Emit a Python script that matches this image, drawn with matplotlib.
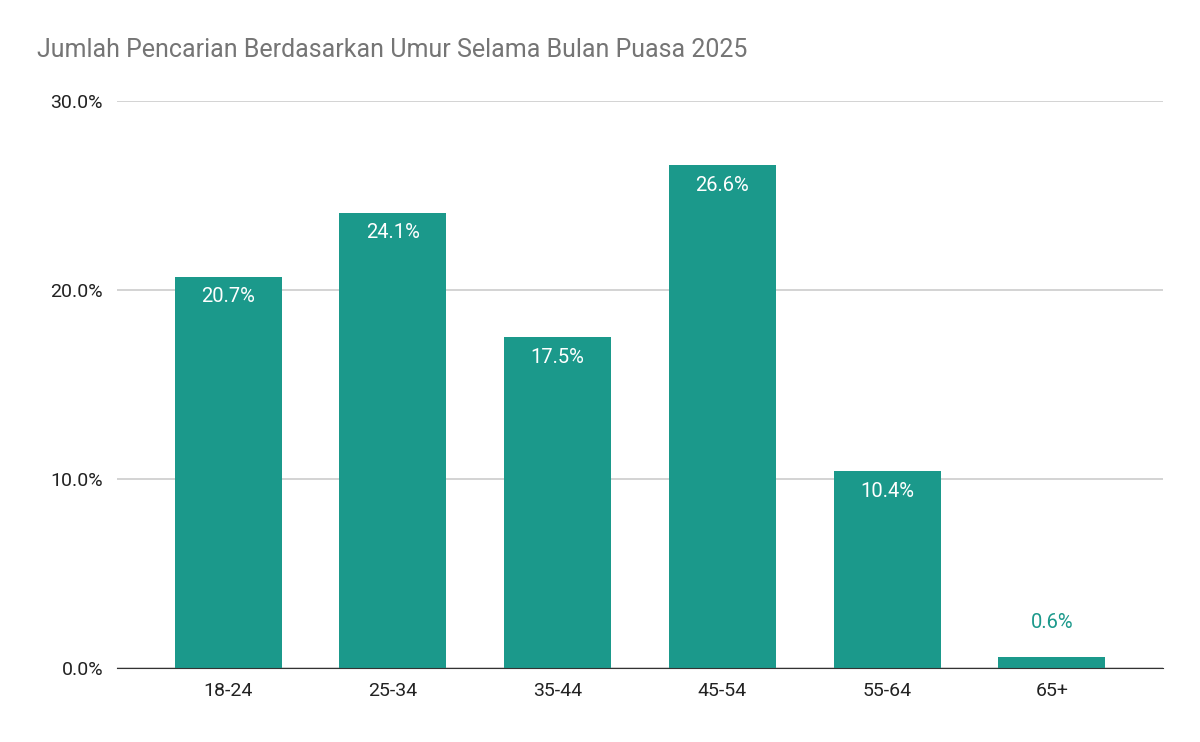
import matplotlib
matplotlib.use("Agg")
import matplotlib.pyplot as plt
from matplotlib.ticker import FuncFormatter

categories = ["18-24", "25-34", "35-44", "45-54", "55-64", "65+"]
values = [20.7, 24.1, 17.5, 26.6, 10.4, 0.6]
color = "#1b998b"

plt.rcParams['font.family'] = ['Roboto', 'DejaVu Sans']
fig = plt.figure(figsize=(12, 7.42), dpi=100)
ax = fig.add_axes([117/1200, 1-668/742, (1163-117)/1200, (668-101)/742])
x = list(range(len(categories)))
ax.bar(x, values, width=0.65, color=color, zorder=3)
for xi, v in zip(x, values):
    if v > 3:
        ax.text(xi, v - 0.55, f"{v:.1f}%", ha="center", va="top", color="white", fontsize=14.5, zorder=4)
    else:
        ax.text(xi, v + 1.3, f"{v:.1f}%", ha="center", va="bottom", color=color, fontsize=14.5, zorder=4)
ax.set_xlim(-0.674, 5.674)
ax.set_ylim(0, 30)
ax.set_yticks([0, 10, 20, 30])
ax.yaxis.set_major_formatter(FuncFormatter(lambda v, p: f"{v:.1f}%"))
ax.set_xticks(x)
ax.set_xticklabels(categories)
ax.tick_params(length=0, labelsize=14, colors="#222222", pad=10)
ax.grid(axis="y", color="#cccccc", linewidth=1.2, zorder=0)
for s in ["top", "right", "left"]:
    ax.spines[s].set_visible(False)
ax.spines["bottom"].set_color("#333333")
ax.spines["bottom"].set_zorder(5)
fig.text(37/1200, 1-50/742, "Jumlah Pencarian Berdasarkan Umur Selama Bulan Puasa 2025",
         fontsize=18, color="#757575", va="center", ha="left")
fig.savefig("out.png", dpi=100)
